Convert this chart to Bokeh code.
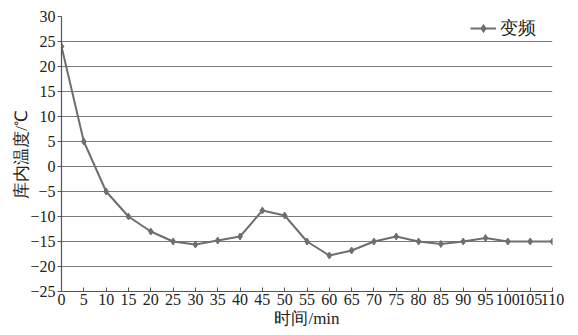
from bokeh.plotting import figure
from bokeh.embed import file_html
from bokeh.resources import INLINE
from bokeh.models import Range1d, FixedTicker, ColumnDataSource, Legend, LegendItem

minutes = [0, 5, 10, 15, 20, 25, 30, 35, 40, 45, 50, 55, 60, 65, 70, 75, 80, 85, 90, 95, 100, 105, 110]
temps = [24, 5, -5, -10, -13, -15, -15.6, -14.8, -14, -8.8, -9.8, -15, -17.8, -16.8, -15, -14, -15, -15.5, -15, -14.3, -15, -15, -15]
series_name = "变频"
x_label = "时间/min"
y_label = "库内温度/℃"
x_ticks = list(range(0, 111, 5))
y_ticks = list(range(-25, 31, 5))

FONT = "Liberation Serif"
GREY = "#6e6e6e"

p = figure(width=570, height=334, output_backend="svg", toolbar_location=None,
           x_range=Range1d(0, 110), y_range=Range1d(-25, 30),
           min_border_left=61, min_border_right=18, min_border_top=16, min_border_bottom=43)
p.outline_line_color = None
p.background_fill_color = "white"

src = ColumnDataSource(dict(x=minutes, y=temps))
ln = p.line("x", "y", source=src, line_color=GREY, line_width=2)
mk = p.scatter("x", "y", source=src, marker="diamond", size=7, fill_color=GREY, line_color=GREY)

p.xgrid.grid_line_color = None
p.ygrid.grid_line_color = "#7a7a7a"
p.ygrid.grid_line_width = 1.2

p.xaxis.ticker = FixedTicker(ticks=x_ticks)
p.yaxis.ticker = FixedTicker(ticks=y_ticks)
p.xaxis.minor_tick_line_color = None
p.yaxis.minor_tick_line_color = None
for ax in (p.xaxis, p.yaxis):
    ax.axis_line_color = "#555555"
    ax.axis_line_width = 1.2
    ax.major_tick_line_color = "#555555"
    ax.major_label_text_font = FONT
    ax.major_label_text_font_size = "16px"
    ax.major_label_text_color = "#222222"
    ax.axis_label_text_font = FONT
    ax.axis_label_text_font_size = "17px"
    ax.axis_label_text_font_style = "normal"
    ax.axis_label_text_color = "#222222"
p.xaxis.major_tick_in = 4
p.xaxis.major_tick_out = 0
p.yaxis.major_tick_in = 0
p.yaxis.major_tick_out = 4
p.xaxis.major_label_standoff = 2
p.yaxis.major_label_standoff = 2
p.xaxis.axis_label = x_label
p.yaxis.axis_label = y_label
p.xaxis.axis_label_standoff = 1
p.yaxis.axis_label_standoff = -4

legend = Legend(items=[LegendItem(label=series_name, renderers=[ln, mk])],
                location=(409, 251), border_line_color=None, background_fill_alpha=0,
                label_text_font=FONT, label_text_font_size="18px", label_text_color="#222222",
                glyph_width=26, glyph_height=20, padding=0, margin=0, label_standoff=4)
p.add_layout(legend)

open("out.html", "w").write(file_html(p, INLINE))
